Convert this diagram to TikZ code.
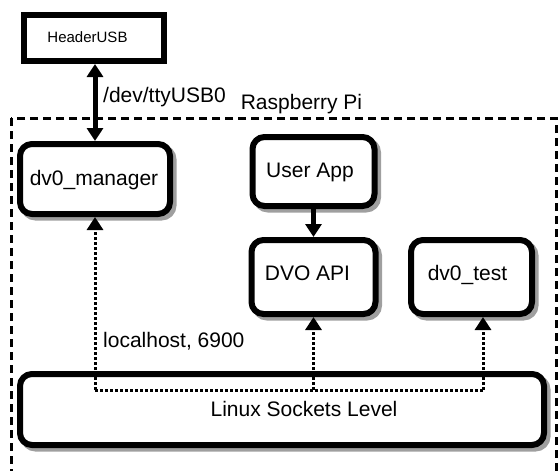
\documentclass[tikz,border=0pt]{standalone}
\usepackage{fontspec}
\setmainfont{Liberation Sans}
\usetikzlibrary{arrows.meta,shadows}

\tikzset{
  big/.style={font=\fontsize{21}{25}\selectfont},
  procbox/.style={draw, line width=6pt, rounded corners=12pt, fill=white,
    inner sep=0pt,
    drop shadow={shadow xshift=3.5pt, shadow yshift=-3.5pt,
      fill=gray!75, draw=gray!75, line width=6pt, opacity=1}},
  hwbox/.style={draw, line width=6pt, fill=white, inner sep=0pt},
  small/.style={font=\fontsize{15}{18}\selectfont, inner sep=0pt},
  solidarrow/.style={line width=5pt, -{Triangle[width=16pt,length=13pt]}},
  dualarrow/.style={line width=5pt, {Triangle[width=16pt,length=13pt]}-{Triangle[width=16pt,length=13pt]}},
  dotline/.style={line width=3pt, dash pattern=on 2.6pt off 2.4pt},
  dotarrow/.style={dotline, -{Triangle[width=16pt,length=13pt]}},
  frame/.style={line width=3pt, dash pattern=on 8pt off 5pt},
  caption/.style={big, inner sep=0pt, anchor=base}
}

\begin{document}
\begin{tikzpicture}[x=1pt, y=-1pt]
  \useasboundingbox (0,0) rectangle (558,471);

  % dashed boundary of the Raspberry Pi
  \begin{scope}
    \clip (0,0) rectangle (558,471);
    \draw[frame] (11,118) rectangle (556,490);
  \end{scope}
  \node[caption] (rpi) at (301.5,109) {Raspberry Pi};

  % external device
  \node[hwbox, minimum width=140pt, minimum height=46pt] (usb) at (94,38) {};
  \node[small, anchor=base] (usbtxt) at (87.5,42) {HeaderUSB};

  % processes
  \node[procbox, minimum width=150pt, minimum height=70pt] (mgr) at (95,179) {};
  \node[caption] (mgrtxt) at (94,185) {dv0\_manager};
  \node[procbox, minimum width=122pt, minimum height=69pt] (app) at (313.5,171.5) {};
  \node[caption] (apptxt) at (310,177) {User App};
  \node[procbox, minimum width=124pt, minimum height=74pt] (api) at (313.5,277) {};
  \node[caption] (apitxt) at (307.5,280) {DVO API};
  \node[procbox, minimum width=121pt, minimum height=74pt] (test) at (471.5,277) {};
  \node[caption] (testtxt) at (467.5,280) {dv0\_test};

  % socket layer
  \node[procbox, minimum width=524pt, minimum height=71pt] (sock) at (282,409.5) {};
  \node[caption] (socktxt) at (304,416) {Linux Sockets Level};

  % serial link
  \draw[dualarrow] (usb.south -| mgr.north) -- (mgr.north);
  \node[caption, anchor=base west] (tty) at (103,102) {/dev/ttyUSB0};

  % application to API
  \draw[solidarrow] (app.south) -- (api.north);

  % socket connections
  \coordinate (j1) at (95,390);
  \coordinate (j2) at (313.5,390);
  \coordinate (j3) at (483,390);
  \draw[dotline] (j1) -- (j3);
  \draw[dotarrow] (j1) -- (mgr.south);
  \draw[dotarrow] (j2) -- (api.south);
  \draw[dotarrow] (j3) -- (j3 |- test.south);
  \node[caption, anchor=base west] (port) at (103,347) {localhost, 6900};
\end{tikzpicture}
\end{document}
